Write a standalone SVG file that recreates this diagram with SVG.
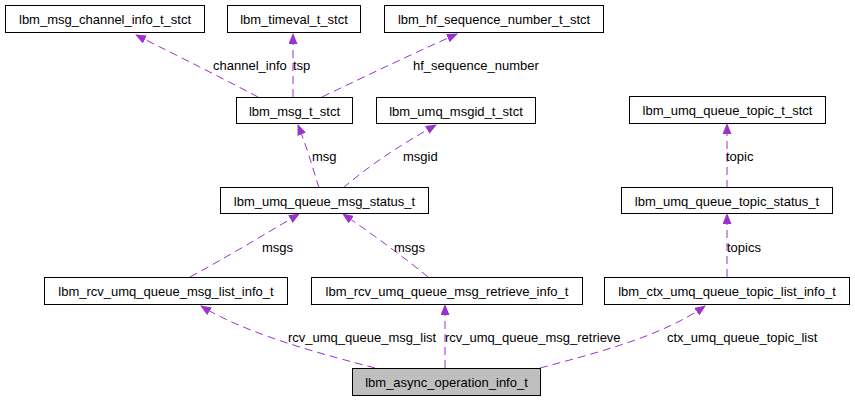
<svg xmlns="http://www.w3.org/2000/svg" width="855" height="400" viewBox="0 0 855 400">
<defs>
<marker id="arr" markerWidth="11" markerHeight="9" refX="10" refY="4.5" orient="auto" markerUnits="userSpaceOnUse">
<path d="M0,0 L11,4.5 L0,9 z" fill="#9a32cd"/>
</marker>
<style>
.n rect{fill:#fff;stroke:#000;stroke-width:1}
.n text, .lbl{font-family:"Liberation Sans",Arial,sans-serif;font-size:13px;fill:#000}
.n text{text-anchor:middle}
.e path{fill:none;stroke:#9a32cd;stroke-width:1;stroke-dasharray:8,5;marker-end:url(#arr)}
</style>
</defs>
<rect width="855" height="400" fill="#fff"/>
<g id="edges" class="e">
<path d="M258,97 C222,78 182,58 136,35"/>
<path d="M293,97 L293,34"/>
<path d="M322,97 C370,74 410,55 457,34"/>
<path d="M319,188 C312,165 306,145 298,125"/>
<path d="M343,188 C370,165 400,145 436,125"/>
<path d="M727,188 L727,124"/>
<path d="M190,277 C225,258 262,236 299,214"/>
<path d="M428,277 C405,258 375,236 343,214"/>
<path d="M727,277 L727,214"/>
<path d="M375,368 C330,356 250,336 201,306"/>
<path d="M445,368 L445,305"/>
<path d="M540,368 C600,352 662,336 705,306"/>
</g>
<g id="labels">
<text class="lbl" x="213" y="70">channel_info</text>
<text class="lbl" x="293" y="70">tsp</text>
<text class="lbl" x="413" y="70">hf_sequence_number</text>
<text class="lbl" x="312" y="161">msg</text>
<text class="lbl" x="403" y="161">msgid</text>
<text class="lbl" x="726" y="161">topic</text>
<text class="lbl" x="262" y="252">msgs</text>
<text class="lbl" x="394" y="252">msgs</text>
<text class="lbl" x="727" y="252">topics</text>
<text class="lbl" x="288" y="342">rcv_umq_queue_msg_list</text>
<text class="lbl" x="445" y="342">rcv_umq_queue_msg_retrieve</text>
<text class="lbl" x="667" y="342">ctx_umq_queue_topic_list</text>
</g>
<g id="n_channel_info" class="n"><rect x="5.5" y="5.5" width="199" height="27"/><text x="105" y="23.5">lbm_msg_channel_info_t_stct</text></g>
<g id="n_timeval" class="n"><rect x="227.5" y="5.5" width="133" height="27"/><text x="294" y="23.5">lbm_timeval_t_stct</text></g>
<g id="n_hf_seq" class="n"><rect x="384.5" y="5.5" width="219" height="27"/><text x="494" y="23.5">lbm_hf_sequence_number_t_stct</text></g>
<g id="n_msg_t" class="n"><rect x="236.5" y="97.5" width="116" height="26"/><text x="294.5" y="115.5">lbm_msg_t_stct</text></g>
<g id="n_msgid" class="n"><rect x="376.5" y="97.5" width="159" height="26"/><text x="456" y="115.5">lbm_umq_msgid_t_stct</text></g>
<g id="n_topic_t" class="n"><rect x="629.5" y="96.5" width="196" height="27"/><text x="727.5" y="114.5">lbm_umq_queue_topic_t_stct</text></g>
<g id="n_msg_status" class="n"><rect x="220.5" y="187.5" width="208" height="26"/><text x="324.5" y="205.5">lbm_umq_queue_msg_status_t</text></g>
<g id="n_topic_status" class="n"><rect x="621.5" y="187.5" width="211" height="26"/><text x="727" y="205.5">lbm_umq_queue_topic_status_t</text></g>
<g id="n_list_info" class="n"><rect x="44.5" y="277.5" width="243" height="27"/><text x="166" y="295.5">lbm_rcv_umq_queue_msg_list_info_t</text></g>
<g id="n_retrieve_info" class="n"><rect x="311.5" y="277.5" width="271" height="27"/><text x="447" y="295.5">lbm_rcv_umq_queue_msg_retrieve_info_t</text></g>
<g id="n_topic_list" class="n"><rect x="604.5" y="277.5" width="245" height="27"/><text x="727" y="295.5">lbm_ctx_umq_queue_topic_list_info_t</text></g>
<g id="n_async" class="n"><rect x="352.5" y="368.5" width="188" height="27" style="fill:#bfbfbf"/><text x="446.5" y="386.5">lbm_async_operation_info_t</text></g>
</svg>
